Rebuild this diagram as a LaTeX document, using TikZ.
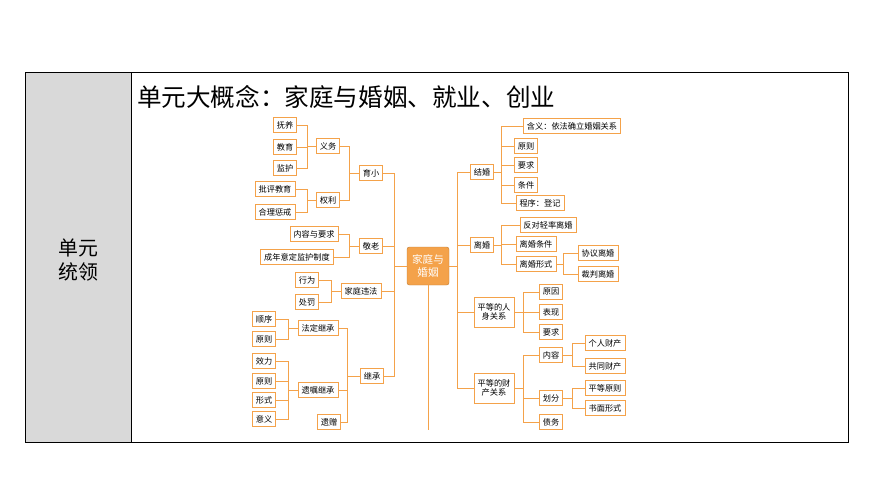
\documentclass[tikz,border=0pt]{standalone}
\usepackage{fontspec}
\setmainfont{Noto Sans CJK SC}
\usetikzlibrary{positioning}
\definecolor{orng}{HTML}{F4A24A}
\tikzset{
  box/.style={draw=orng,line width=0.6pt,fill=white,font=\fontsize{7}{8}\selectfont,
    inner xsep=3pt,inner ysep=0pt,minimum height=0.46cm},
  root/.style={draw=orng!80!black,fill=orng,rounded corners=2pt,text=white,
    font=\fontsize{9}{10.5}\selectfont,align=center,inner sep=2pt,minimum width=1.26cm,minimum height=1.14cm},
  link/.style={draw=orng,line width=0.6pt}
}
\begin{document}
\begin{tikzpicture}[x=0.03cm,y=-0.03cm]
\useasboundingbox (0,0) rectangle (870,490);
% frame
\fill[gray!30] (25,72) rectangle (131,442);
\draw[line width=0.8pt] (25,72) rectangle (848,442);
\draw[line width=0.8pt] (131,72) -- (131,442);
\node[font=\fontsize{17}{21}\selectfont,align=center] (lead) at (78,260) {单元\\统领};
\node[font=\fontsize{21}{24}\selectfont,anchor=west] (title) at (133,97) {单元大概念：家庭与婚姻、就业、创业};
% centre
\node[root] (core) at (428,266) {家庭与\\婚姻};
\draw[link] (core.south) -- (428,430);
% left side
\node[box] (fy) at (285,125) {抚养};
\node[box] (jy) at (285,147) {教育};
\node[box] (jh) at (285,168) {监护};
\node[box] (yw) at (328,146) {义务};
\node[box] (pp) at (275,189) {批评教育};
\node[box] (hl) at (275,212) {合理惩戒};
\node[box] (ql) at (328,200) {权利};
\node[box] (yx) at (371,173) {育小};
\node[box] (nr) at (314,234) {内容与要求};
\node[box] (cn) at (297,257) {成年意定监护制度};
\node[box] (jl) at (371,246) {敬老};
\node[box] (xw) at (307,280) {行为};
\node[box] (cf) at (307,302) {处罚};
\node[box] (wf) at (361,291) {家庭违法};
\node[box] (sx) at (264,319) {顺序};
\node[box] (yz) at (264,339) {原则};
\node[box] (fd) at (318,328) {法定继承};
\node[box] (xl) at (264,361) {效力};
\node[box] (yz2) at (264,381) {原则};
\node[box] (xs) at (264,400) {形式};
\node[box] (yy) at (264,419) {意义};
\node[box] (yzh) at (318,390) {遗嘱继承};
\node[box] (yzg) at (329,422) {遗赠};
\node[box] (jc) at (372,376) {继承};
% right side
\node[box] (jhun) at (482,172) {结婚};
\node[box] (hy) at (572,126) {含义：依法确立婚姻关系};
\node[box] (yzr) at (526,146) {原则};
\node[box] (yq) at (526,165) {要求};
\node[box] (tj) at (526,185) {条件};
\node[box] (cx) at (540,203) {程序：登记};
\node[box] (lh) at (482,245) {离婚};
\node[box] (fd2) at (548,225) {反对轻率离婚};
\node[box] (lt) at (536,244) {离婚条件};
\node[box] (lx) at (536,264) {离婚形式};
\node[box] (xy) at (598,253) {协议离婚};
\node[box] (cp) at (598,274) {裁判离婚};
\node[box,align=center,minimum height=0.9cm] (rs) at (494,312) {平等的人\\身关系};
\node[box] (yyin) at (551,292) {原因};
\node[box] (bx) at (551,312) {表现};
\node[box] (yq2) at (551,332) {要求};
\node[box,align=center,minimum height=0.9cm] (cc) at (494,388) {平等的财\\产关系};
\node[box] (nrr) at (551,355) {内容};
\node[box] (hf) at (551,398) {划分};
\node[box] (zw) at (551,422) {债务};
\node[box] (gr) at (605,343) {个人财产};
\node[box] (gt) at (605,366) {共同财产};
\node[box] (pd) at (605,388) {平等原则};
\node[box] (sm) at (605,408) {书面形式};
% connectors, left
\foreach \p/\c/\d in {core/yx/12,core/jl/12,core/wf/12,core/jc/12,
  yx/yw/10,yx/ql/10,yw/fy/9,yw/jy/9,yw/jh/9,ql/pp/9,ql/hl/9,
  jl/nr/10,jl/cn/10,wf/xw/9,wf/cf/9,jc/fd/13,jc/yzh/13,jc/yzg/13,
  fd/sx/9,fd/yz/9,yzh/xl/9,yzh/yz2/9,yzh/xs/9,yzh/yy/9}
  \draw[link] (\p.west) -- ++(-\d,0) |- (\c.east);
% connectors, right
\foreach \p/\c/\d in {core/jhun/8,core/lh/8,core/rs/8,core/cc/8,
  jhun/hy/7,jhun/yzr/7,jhun/yq/7,jhun/tj/7,jhun/cx/7,
  lh/fd2/7,lh/lt/7,lh/lx/7,lx/xy/7,lx/cp/7,
  rs/yyin/9,rs/bx/9,rs/yq2/9,cc/nrr/9,cc/hf/9,cc/zw/9,
  nrr/gr/9,nrr/gt/9,hf/pd/9,hf/sm/9}
  \draw[link] (\p.east) -- ++(\d,0) |- (\c.west);
\end{tikzpicture}
\end{document}
